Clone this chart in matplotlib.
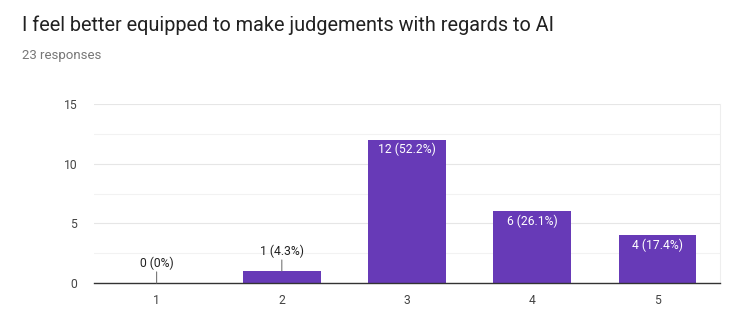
import matplotlib
matplotlib.use("Agg")
import matplotlib.pyplot as plt
from matplotlib.ticker import MultipleLocator

categories = ["1", "2", "3", "4", "5"]
counts = [0, 1, 12, 6, 4]
labels = ["0 (0%)", "1 (4.3%)", "12 (52.2%)", "6 (26.1%)", "4 (17.4%)"]
title = "I feel better equipped to make judgements with regards to AI"
subtitle = "23 responses"
yticks = [0, 5, 10, 15]

plt.rcParams['font.family'] = ['Roboto', 'DejaVu Sans']

fig = plt.figure(figsize=(7.43, 3.29), dpi=100)
ax = fig.add_axes([94/743, 1-283/329, (720-94)/743, (283-104)/329])

purple = "#673AB7"
x = list(range(len(categories)))
ax.bar(x, counts, width=0.62, color=purple, zorder=3)

ax.set_xlim(-0.5, len(categories)-0.5)
ax.set_ylim(0, 15)
ax.set_yticks(yticks)
ax.yaxis.set_minor_locator(MultipleLocator(2.5))
ax.set_xticks(x)
ax.set_xticklabels(categories)
ax.tick_params(axis='both', which='both', length=0, labelsize=8.7, colors="#444444")
ax.tick_params(axis='x', pad=8)
ax.tick_params(axis='y', pad=12)
ax.grid(axis='y', which='major', color="#e6e6e6", lw=0.8, zorder=0)
ax.grid(axis='y', which='minor', color="#f2f2f2", lw=0.8, zorder=0)
for s in ['top', 'left']:
    ax.spines[s].set_visible(False)
ax.spines['right'].set_color("#eeeeee")
ax.spines['bottom'].set_color("#333333")
ax.spines['bottom'].set_linewidth(1.0)
ax.spines['bottom'].set_zorder(4)

for xi, c, lab in zip(x, counts, labels):
    if c >= 3:
        ax.annotate(lab, (xi, c), xytext=(0, -7), textcoords='offset points',
                    ha='center', va='center', color='white', fontsize=8.7, zorder=5)
    else:
        ax.annotate("", xy=(xi, c), xytext=(0, 8), textcoords='offset points',
                    arrowprops=dict(arrowstyle='-', color="#777777", lw=0.8,
                                    shrinkA=0, shrinkB=0), zorder=5)
        ax.annotate(lab, (xi, c), xytext=(0, 14), textcoords='offset points',
                    ha='center', va='center', color="#222222", fontsize=8.7, zorder=5)

fig.text(22/743, 1-25/329, title, fontsize=14.3, color="#212121", va='center', ha='left')
fig.text(22/743, 1-55/329, subtitle, fontsize=9.5, color="#777777", va='center', ha='left')

fig.savefig("out.png", dpi=100)
